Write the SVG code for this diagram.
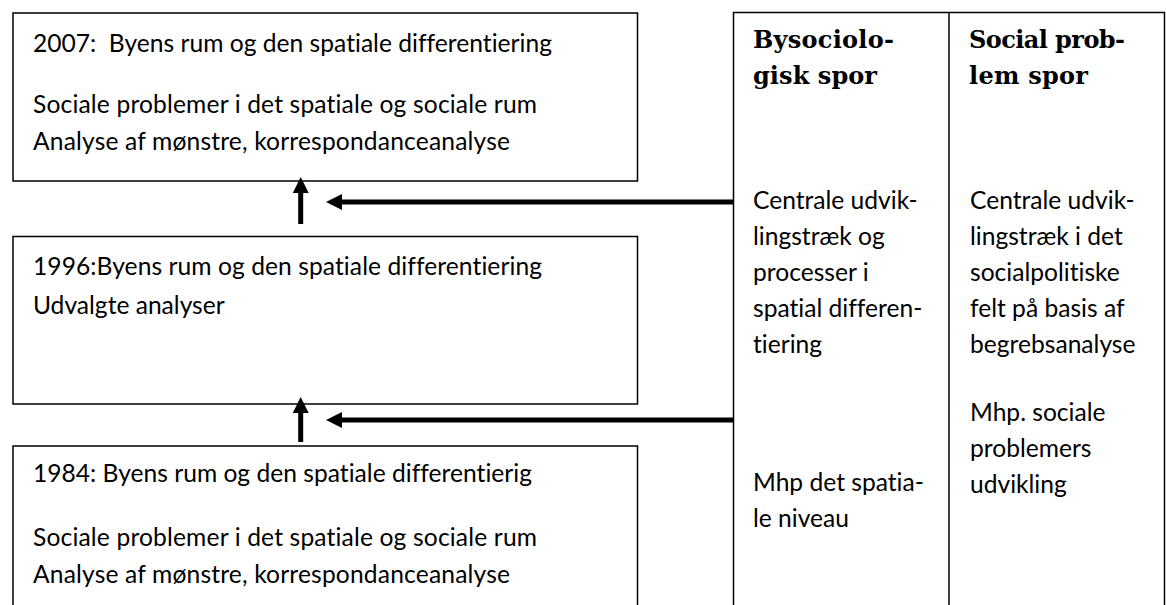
<svg xmlns="http://www.w3.org/2000/svg" width="1166" height="605" viewBox="0 0 1166 605">
  <style>
    .box { fill: #ffffff; stroke: #000000; stroke-width: 1.5; }
    .t { font-family: Lato, "Open Sans", "Liberation Sans", sans-serif; font-size: 24.6px; fill: #000000; font-variant-ligatures: none; font-feature-settings: "liga" 0, "dlig" 0; white-space: pre; }
    .h { font-family: "DejaVu Serif", "Liberation Serif", serif; font-weight: bold; font-size: 24px; fill: #000000; }
    .conn { stroke: #000000; stroke-width: 5; fill: none; }
  </style>
  <defs>
    <marker id="head" viewBox="0 0 16 16" markerWidth="16" markerHeight="16" markerUnits="userSpaceOnUse" refX="2" refY="8" orient="auto">
      <path d="M0,0 L16,8 L0,16 z" fill="#000000"/>
    </marker>
  </defs>
  <rect width="1166" height="605" fill="#ffffff"/>

  <g id="box2007">
    <rect class="box" x="13" y="13" width="624.5" height="168"/>
    <text class="t" x="33" y="52" textLength="519" xml:space="preserve">2007:  Byens rum og den spatiale differentiering</text>
    <text class="t" x="33" y="113" textLength="504">Sociale problemer i det spatiale og sociale rum</text>
    <text class="t" x="33" y="150" textLength="477">Analyse af mønstre, korrespondanceanalyse</text>
  </g>

  <g id="box1996">
    <rect class="box" x="13" y="236.5" width="624.5" height="167.5"/>
    <text class="t" x="33" y="275" textLength="509">1996:Byens rum og den spatiale differentiering</text>
    <text class="t" x="33" y="314">Udvalgte analyser</text>
  </g>

  <g id="box1984">
    <rect class="box" x="13" y="446" width="624.5" height="180"/>
    <text class="t" x="33" y="482" textLength="499">1984: Byens rum og den spatiale differentierig</text>
    <text class="t" x="33" y="546" textLength="504">Sociale problemer i det spatiale og sociale rum</text>
    <text class="t" x="33" y="583" textLength="477">Analyse af mønstre, korrespondanceanalyse</text>
  </g>

  <g id="tracks">
    <rect class="box" x="733.5" y="12.5" width="431" height="620"/>
    <line x1="949" y1="12.5" x2="949" y2="620" stroke="#000000" stroke-width="1.5"/>
  </g>

  <g id="col-bysociologisk">
    <text class="h" x="753" y="48" textLength="141">Bysociolo-</text>
    <text class="h" x="753" y="84" textLength="124">gisk spor</text>
    <text class="t" x="753" y="209">Centrale udvik-</text>
    <text class="t" x="753" y="245">lingstræk og</text>
    <text class="t" x="753" y="281">processer i</text>
    <text class="t" x="753" y="317">spatial differen-</text>
    <text class="t" x="753" y="353">tiering</text>
    <text class="t" x="753" y="491">Mhp det spatia-</text>
    <text class="t" x="753" y="527">le niveau</text>
  </g>

  <g id="col-socialproblem">
    <text class="h" x="969" y="48" textLength="156">Social prob-</text>
    <text class="h" x="969" y="84" textLength="119">lem spor</text>
    <text class="t" x="970" y="209">Centrale udvik-</text>
    <text class="t" x="970" y="245">lingstræk i det</text>
    <text class="t" x="970" y="281">socialpolitiske</text>
    <text class="t" x="970" y="317">felt på basis af</text>
    <text class="t" x="970" y="353">begrebsanalyse</text>
    <text class="t" x="970" y="421">Mhp. sociale</text>
    <text class="t" x="970" y="457">problemers</text>
    <text class="t" x="970" y="493">udvikling</text>
  </g>

  <g id="connectors">
    <line class="conn" x1="733" y1="202" x2="340" y2="202" marker-end="url(#head)"/>
    <line class="conn" x1="733" y1="420" x2="340" y2="420" marker-end="url(#head)"/>
    <line class="conn" x1="300.7" y1="224" x2="300.7" y2="191" marker-end="url(#head)"/>
    <line class="conn" x1="300.7" y1="442" x2="300.7" y2="411" marker-end="url(#head)"/>
  </g>
</svg>
